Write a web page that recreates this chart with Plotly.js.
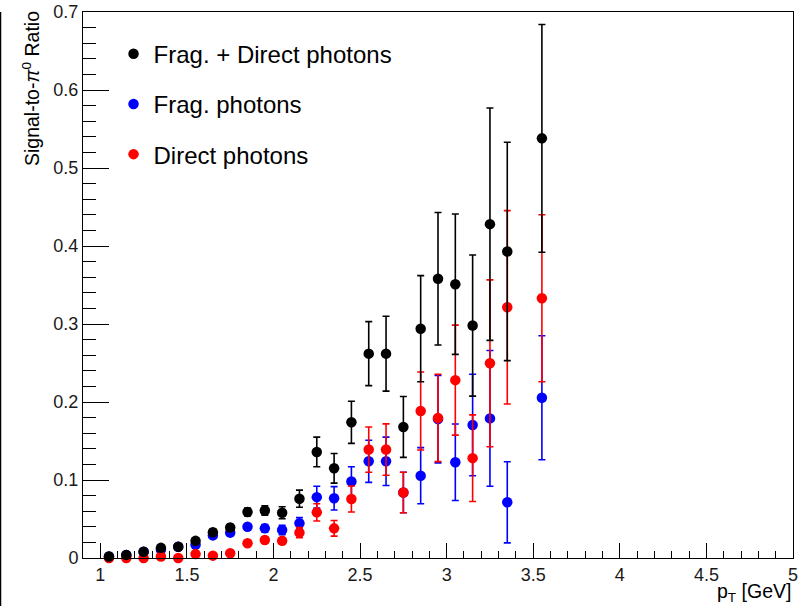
<!DOCTYPE html>
<html>
<head>
<meta charset="utf-8">
<script src="https://cdn.plot.ly/plotly-3.0.1.min.js"></script>
<style>
  html, body { margin: 0; padding: 0; background: #ffffff; }
  #chart { width: 805px; height: 606px; }
</style>
</head>
<body>
<div id="chart"></div>
<script>
// pT bin centres (GeV); the 3.45 bin is empty
const ptBins = [1.05, 1.15, 1.25, 1.35, 1.45, 1.55, 1.65, 1.75, 1.85, 1.95,
                2.05, 2.15, 2.25, 2.35, 2.45, 2.55, 2.65, 2.75, 2.85, 2.95,
                3.05, 3.15, 3.25, 3.35, 3.45, 3.55];

// Fragmentation + direct photons
const totalRatio = [0.002, 0.004, 0.008, 0.013, 0.0145, 0.022, 0.033, 0.039, 0.059, 0.061,
                    0.058, 0.076, 0.136, 0.115, 0.174, 0.262, 0.262, 0.168, 0.294, 0.358,
                    0.351, 0.298, 0.428, 0.393, null, 0.538];
const totalErr   = [0.001, 0.0015, 0.002, 0.0025, 0.003, 0.003, 0.004, 0.004, 0.005, 0.006,
                    0.0077, 0.011, 0.019, 0.019, 0.027, 0.041, 0.048, 0.039, 0.068, 0.085,
                    0.090, 0.0905, 0.149, 0.140, null, 0.146];

// Fragmentation photons
const fragRatio  = [0.002, 0.004, 0.008, 0.011, 0.0145, 0.017, 0.029, 0.0325, 0.040, 0.038,
                    0.036, 0.0445, 0.078, 0.0765, 0.098, 0.124, 0.124, 0.084, 0.1055, 0.178,
                    0.1227, 0.1705, 0.179, 0.0714, null, 0.2055];
const fragErr    = [0.001, 0.0015, 0.002, 0.0025, 0.003, 0.003, 0.004, 0.004, 0.004, 0.005,
                    0.006, 0.0073, 0.014, 0.015, 0.019, 0.027, 0.031, 0.026, 0.036, 0.056,
                    0.049, 0.065, 0.087, 0.052, null, 0.0795];

// Direct photons
const directRatio = [0.0, 0.0, 0.0, 0.002, 0.0, 0.005, 0.003, 0.006, 0.019, 0.023,
                     0.022, 0.0325, 0.0585, 0.038, 0.0756, 0.139, 0.139, 0.084, 0.1885, 0.1795,
                     0.228, 0.128, 0.2496, 0.3214, null, 0.333];
const directErr   = [0.0005, 0.0005, 0.0005, 0.001, 0.0005, 0.002, 0.0015, 0.002, 0.003, 0.004,
                     0.004, 0.0065, 0.011, 0.010, 0.0167, 0.029, 0.033, 0.026, 0.050, 0.056,
                     0.0705, 0.0555, 0.107, 0.124, null, 0.107];

const seriesNames = ['Frag. + Direct photons', 'Frag. photons', 'Direct photons'];

const FONT = '"Liberation Sans", Arial, Helvetica, sans-serif';

function series(name, y, err, color, rank) {
  return {
    type: 'scatter',
    mode: 'markers',
    name: name,
    x: ptBins,
    y: y,
    legendrank: rank,
    legendgroup: name,
    cliponaxis: false,
    marker: { color: color, size: 10.5, symbol: 'circle', line: { width: 0 } },
    error_y: { type: 'data', array: err, visible: true, color: color, thickness: 1.6, width: 3.5 },
    hoverinfo: 'x+y'
  };
}

// fragmentation first, direct on top of it, the sum on top of both
const data = [
  series(seriesNames[1], fragRatio, fragErr, '#0000ff', 2),
  series(seriesNames[2], directRatio, directErr, '#ff0000', 3),
  series(seriesNames[0], totalRatio, totalErr, '#000000', 1)
];

const axisCommon = {
  showgrid: false,
  zeroline: false,
  showline: true,
  mirror: true,
  linecolor: '#000000',
  linewidth: 1,
  ticks: 'inside',
  tickcolor: '#000000',
  tickwidth: 1,
  tickfont: { family: FONT, size: 18, color: '#1a1a1a' }
};

const layout = {
  width: 805,
  height: 606,
  margin: { l: 83, r: 12, t: 12, b: 48, pad: 0 },
  paper_bgcolor: '#ffffff',
  plot_bgcolor: '#ffffff',
  font: { family: FONT, color: '#000000' },
  showlegend: true,
  legend: {
    x: 0.043, y: 0.964, xanchor: 'left', yanchor: 'top',
    bgcolor: 'rgba(0,0,0,0)',
    borderwidth: 0,
    font: { family: FONT, size: 24, color: '#000000' },
    tracegroupgap: 16,
    itemwidth: 30
  },
  xaxis: Object.assign({}, axisCommon, {
    range: [0.9, 5],
    tick0: 0, dtick: 0.5,
    ticklen: 15,
    minor: { dtick: 0.1, ticks: 'inside', ticklen: 7.5, tickcolor: '#000000', tickwidth: 1 }
  }),
  yaxis: Object.assign({}, axisCommon, {
    range: [0, 0.7],
    tick0: 0, dtick: 0.1,
    ticklen: 26,
    minor: { dtick: 0.02, ticks: 'inside', ticklen: 13, tickcolor: '#000000', tickwidth: 1 }
  }),
  annotations: [
    {
      text: 'Signal-to-<i>π</i><sup>0</sup> Ratio',
      xref: 'paper', yref: 'paper',
      x: -0.0735, y: 1.006,
      xanchor: 'center', yanchor: 'top',
      textangle: -90,
      showarrow: false,
      font: { family: FONT, size: 19.5, color: '#000000' }
    },
    {
      text: 'p<sub>T</sub> [GeV]',
      xref: 'paper', yref: 'paper',
      x: 1.0, y: -0.036,
      xanchor: 'right', yanchor: 'top',
      showarrow: false,
      font: { family: FONT, size: 19.5, color: '#000000' }
    }
  ],
  shapes: [
    // edge of the neighbouring pad on the left
    { type: 'line', xref: 'paper', yref: 'paper', x0: -0.1169, x1: -0.1169, y0: 1.0, y1: -0.1, line: { color: '#000000', width: 2.5 } },
    { type: 'line', xref: 'paper', yref: 'paper', x0: -0.125, x1: -0.1169, y0: 1.0, y1: 1.0, line: { color: '#000000', width: 1.5 } }
  ]
};

Plotly.newPlot('chart', data, layout, { displayModeBar: false, staticPlot: true });
</script>
</body>
</html>
